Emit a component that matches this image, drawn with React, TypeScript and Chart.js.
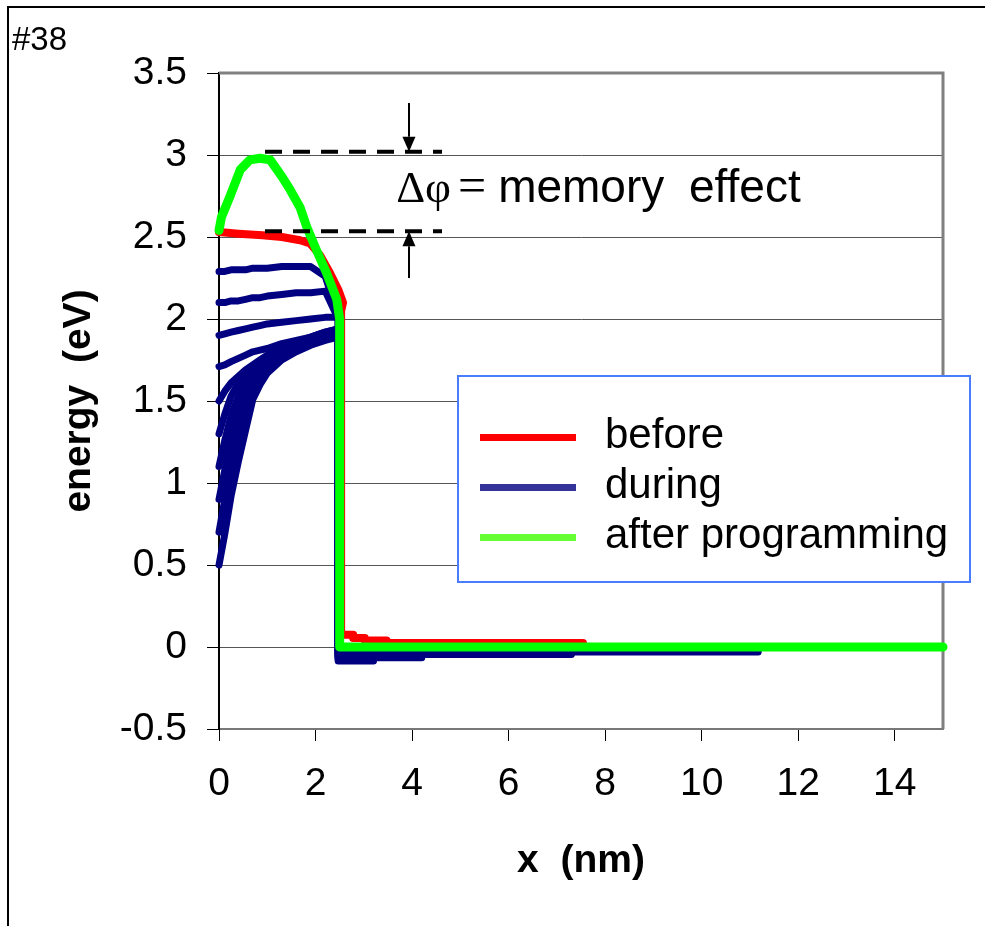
import React, { useEffect, useRef } from "react";
import { Chart, registerables } from "chart.js";

Chart.register(...registerables);

const SANS = '"Liberation Sans", Arial, sans-serif';
const SERIF = '"Liberation Serif", "Times New Roman", serif';

// ---- data ----
const beforeX = [0, 0.4, 0.9, 1.3, 1.68, 1.89, 2.09, 2.3, 2.47, 2.57, 2.53, 2.53, 2.78, 2.78, 3.02, 3.02, 3.47, 3.47, 7.54];
const beforeY = [2.53, 2.52, 2.51, 2.5, 2.48, 2.46, 2.39, 2.28, 2.18, 2.1, 2.05, 0.075, 0.075, 0.055, 0.055, 0.04, 0.04, 0.025, 0.025];

const afterX = [0, 0.05, 0.23, 0.44, 0.64, 0.85, 1.06, 1.3, 1.47, 1.68, 1.82, 2.02, 2.23, 2.44, 2.5, 2.5, 15];
const afterY = [2.54, 2.62, 2.75, 2.91, 2.97, 2.98, 2.97, 2.87, 2.79, 2.68, 2.56, 2.42, 2.28, 2.12, 2.0, 0, 0];

const duringX = [0, 0.12, 0.25, 0.4, 0.55, 0.7, 0.85, 1.0, 1.3, 1.6, 1.9, 2.2, 2.47];
const during1 = [2.29, 2.29, 2.3, 2.3, 2.3, 2.31, 2.31, 2.31, 2.32, 2.32, 2.32, 2.26, 2.02];
const during2 = [2.1, 2.1, 2.11, 2.11, 2.12, 2.13, 2.13, 2.14, 2.15, 2.16, 2.16, 2.17, 2.0];
const during3 = [1.9, 1.91, 1.92, 1.93, 1.94, 1.95, 1.96, 1.97, 1.98, 1.99, 2.0, 2.01, 2.01];
const during4 = [1.71, 1.72, 1.74, 1.76, 1.78, 1.8, 1.81, 1.82, 1.85, 1.87, 1.89, 1.92, 1.94];
const during5 = [1.5, 1.56, 1.61, 1.65, 1.69, 1.72, 1.75, 1.78, 1.82, 1.86, 1.89, 1.92, 1.94];
const during6 = [1.3, 1.42, 1.53, 1.61, 1.67, 1.71, 1.74, 1.77, 1.81, 1.85, 1.88, 1.91, 1.93];
const during7 = [1.1, 1.26, 1.41, 1.53, 1.62, 1.68, 1.72, 1.75, 1.8, 1.84, 1.87, 1.9, 1.92];
const during8 = [0.9, 1.08, 1.26, 1.43, 1.55, 1.63, 1.68, 1.72, 1.78, 1.82, 1.86, 1.89, 1.91];
const during9 = [0.7, 0.9, 1.1, 1.3, 1.46, 1.57, 1.64, 1.69, 1.76, 1.81, 1.85, 1.88, 1.9];
const during10 = [0.5, 0.69, 0.92, 1.13, 1.32, 1.51, 1.6, 1.67, 1.75, 1.8, 1.84, 1.87, 1.89];
const duringCurves = [during1, during2, during3, during4, during5, during6, during7, during8, during9, during10];
const duringTailY = [-0.02, -0.03, -0.04, -0.045, -0.05, -0.06, -0.065, -0.07, -0.08, -0.085];
const duringTailEnd = [11.17, 11.17, 7.3, 7.3, 4.2, 4.2, 4.2, 3.2, 3.2, 3.2];

const legendLabels = ["before", "during", "after programming"];
const legendColors = ["#ff0000", "#333399", "#66ff33"];

const xTickMin = 0;
const xTickMax = 15;
const xTickStep = 2;
const yTickMin = -0.5;
const yTickMax = 3.5;
const yTickStep = 0.5;

// annotation (data units)
const deltaLevels = [3.02, 2.535];
const dashFromX = 0.953;
const dashToX = 4.62;
const arrowX = 3.936;
const arrowTopY = 3.317;
const arrowBottomY = 2.25;
const annotTextX = 3.67;
const annotTextY = 2.715;

const toPts = (xs: number[], ys: number[]) => xs.map((x, i) => ({ x, y: ys[i] }));

const borderPlugin = {
  id: "plotBorder",
  beforeDatasetsDraw(chart: any) {
    const { ctx, chartArea: a } = chart;
    ctx.save();
    ctx.strokeStyle = "#808080";
    ctx.lineWidth = 3;
    ctx.beginPath();
    ctx.moveTo(a.left, a.top);
    ctx.lineTo(a.right, a.top);
    ctx.lineTo(a.right, a.bottom);
    ctx.stroke();
    ctx.restore();
  },
};

const annotationPlugin = {
  id: "deltaPhi",
  afterDatasetsDraw(chart: any) {
    const { ctx, scales } = chart;
    const px = (v: number) => scales.x.getPixelForValue(v);
    const py = (v: number) => scales.y.getPixelForValue(v);
    ctx.save();
    ctx.strokeStyle = "#000";
    ctx.fillStyle = "#000";
    ctx.lineWidth = 4;
    ctx.setLineDash([17, 11]);
    ctx.lineCap = "butt";
    deltaLevels.forEach((lv) => {
      ctx.beginPath();
      ctx.moveTo(px(dashFromX), py(lv));
      ctx.lineTo(px(dashToX), py(lv));
      ctx.stroke();
    });
    ctx.setLineDash([]);
    const ax = px(arrowX);
    const drawArrow = (fromY: number, tipY: number) => {
      const dir = tipY > fromY ? 1 : -1;
      const head = 15;
      ctx.lineWidth = 2;
      ctx.beginPath();
      ctx.moveTo(ax, fromY);
      ctx.lineTo(ax, tipY - dir * head);
      ctx.stroke();
      ctx.beginPath();
      ctx.moveTo(ax, tipY);
      ctx.lineTo(ax - 6.5, tipY - dir * head);
      ctx.lineTo(ax + 6.5, tipY - dir * head);
      ctx.closePath();
      ctx.fill();
    };
    drawArrow(py(arrowTopY), py(deltaLevels[0]));
    drawArrow(py(arrowBottomY), py(deltaLevels[1]));

    const tx = px(annotTextX);
    const ty = py(annotTextY);
    ctx.textBaseline = "alphabetic";
    ctx.textAlign = "left";
    ctx.font = `45px ${SERIF}`;
    ctx.fillText("Δφ", tx, ty);
    ctx.textAlign = "center";
    ctx.font = `50px ${SERIF}`;
    ctx.fillText("=", tx + 76, ty);
    ctx.textAlign = "left";
    ctx.font = `46px ${SANS}`;
    (ctx as any).wordSpacing = "12px";
    ctx.fillText("memory effect", tx + 102, ty);
    (ctx as any).wordSpacing = "0px";
    ctx.restore();
  },
};

export default function App() {
  const ref = useRef<HTMLCanvasElement>(null);

  useEffect(() => {
    const datasets: any[] = [];
    datasets.push({
      label: "after programming",
      data: toPts(afterX, afterY),
      borderColor: "#00ff00",
      borderWidth: 9,
      order: 0,
    });
    datasets.push({
      label: "before",
      data: toPts(beforeX, beforeY),
      borderColor: "#ff0000",
      borderWidth: 8,
      order: 1,
    });
    duringCurves.forEach((ys, i) => {
      const xs = [...duringX, duringX[duringX.length - 1], duringTailEnd[i]];
      const yv = [...ys, duringTailY[i], duringTailY[i]];
      datasets.push({
        label: "during",
        data: toPts(xs, yv),
        borderColor: "#000080",
        borderWidth: 7,
        order: 2,
      });
    });
    datasets.forEach((d) => {
      d.pointRadius = 0;
      d.pointHoverRadius = 0;
      d.tension = 0;
      d.fill = false;
      d.borderJoinStyle = "round";
      d.borderCapStyle = "round";
      d.clip = false;
    });

    const chart = new Chart(ref.current as HTMLCanvasElement, {
      type: "line",
      data: { datasets },
      options: {
        responsive: false,
        animation: false,
        events: [],
        layout: { padding: { top: 73, right: 42, bottom: 0, left: 0 } },
        plugins: { legend: { display: false }, tooltip: { enabled: false } },
        scales: {
          x: {
            type: "linear",
            min: xTickMin,
            max: xTickMax,
            ticks: {
              stepSize: xTickStep,
              includeBounds: false,
              color: "#000",
              font: { family: SANS, size: 39 },
              padding: 20,
              maxRotation: 0,
              autoSkip: false,
              callback: (v: any) => String(Number(v)),
            },
            grid: { drawOnChartArea: false, drawTicks: true, tickLength: 12, tickColor: "#000", tickWidth: 1 },
            border: { display: true, color: "#777", width: 2 },
            title: {
              display: true,
              text: "x  (nm)",
              color: "#000",
              font: { family: SANS, size: 39, weight: "bold" },
              padding: { top: 0, bottom: 41 },
            },
            afterFit(s: any) {
              s.height = 197;
            },
          },
          y: {
            type: "linear",
            min: yTickMin,
            max: yTickMax,
            ticks: {
              stepSize: yTickStep,
              color: "#000",
              font: { family: SANS, size: 39 },
              padding: 20,
              callback: (v: any) => String(Math.round(Number(v) * 10) / 10),
            },
            grid: { color: "#555", lineWidth: 1, drawTicks: true, tickLength: 12, tickColor: "#000", tickWidth: 1 },
            border: { display: true, color: "#000", width: 2 },
            title: {
              display: true,
              text: "energy  (eV)",
              color: "#000",
              font: { family: SANS, size: 39, weight: "bold" },
              padding: { top: 56, bottom: 0 },
            },
            afterFit(s: any) {
              s.width = 219;
            },
          },
        },
      } as any,
      plugins: [borderPlugin, annotationPlugin],
    });
    return () => chart.destroy();
  }, []);

  return (
    <div
      style={{
        position: "absolute",
        left: 0,
        top: 0,
        width: 985,
        height: 926,
        background: "#fff",
        overflow: "hidden",
        fontFamily: SANS,
      }}
    >
      <canvas ref={ref} width={985} height={926} style={{ position: "absolute", left: 0, top: 0 }} />
      <div
        style={{
          position: "absolute",
          left: 7,
          top: 6,
          right: 0,
          bottom: 0,
          borderLeft: "2px solid #000",
          borderTop: "2px solid #000",
          pointerEvents: "none",
        }}
      />
      <div
        style={{
          position: "absolute",
          left: 12,
          top: 22,
          fontSize: 33,
          lineHeight: "33px",
          color: "#000",
          whiteSpace: "nowrap",
        }}
      >
        #38
      </div>
      <div
        style={{
          position: "absolute",
          left: 457,
          top: 375,
          width: 514,
          height: 208,
          boxSizing: "border-box",
          border: "2px solid #4a7cff",
          background: "#fff",
        }}
      />
      {legendLabels.map((lab, i) => (
        <React.Fragment key={lab}>
          <div
            style={{
              position: "absolute",
              left: 480,
              top: 434 + 50 * i,
              width: 96,
              height: 7,
              background: legendColors[i],
            }}
          />
          <div
            style={{
              position: "absolute",
              left: 605,
              top: 413 + 50 * i,
              fontSize: 42,
              lineHeight: "42px",
              color: "#000",
              whiteSpace: "nowrap",
            }}
          >
            {lab}
          </div>
        </React.Fragment>
      ))}
    </div>
  );
}
